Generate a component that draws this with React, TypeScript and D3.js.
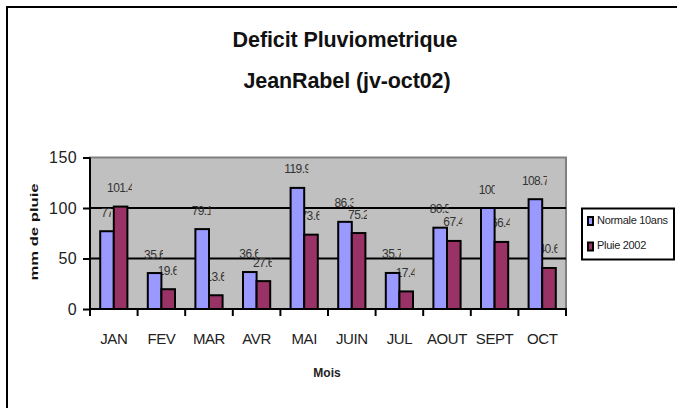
import * as d3 from "d3";
import React, { useEffect, useRef } from "react";

const months = ["JAN", "FEV", "MAR", "AVR", "MAI", "JUIN", "JUL", "AOUT", "SEPT", "OCT"];
const normale = [77, 35.6, 79.1, 36.6, 119.9, 86.3, 35.7, 80.5, 100, 108.7];
const pluie2002 = [101.4, 19.6, 13.6, 27.6, 73.6, 75.2, 17.4, 67.4, 66.4, 40.6];
const seriesNames = ["Normale 10ans", "Pluie 2002"];
const seriesColors = ["#9999FF", "#993366"];
const yTicks = [0, 50, 100, 150];
const gridValues = [50, 100];

const W = 677;
const H = 408;
const FONT = "'Liberation Sans', Arial, sans-serif";

function App() {
    const ref = useRef<SVGSVGElement>(null);

    useEffect(() => {
        const svg = d3.select(ref.current);
        svg.selectAll("*").remove();

        const left = 90, right = 566, top = 157.5, bottom = 309;

        const x = d3.scaleBand().domain(months).range([left, right]).paddingInner(0).paddingOuter(0);
        // excel style gap width of 150%
        const xs = d3.scaleBand().domain(seriesNames).range([0, x.bandwidth()]).paddingInner(0).paddingOuter(0.75);
        const y = d3.scaleLinear().domain([0, 150]).range([bottom, top]);

        const defs = svg.append("defs");

        // chart frame (runs off the page at right/bottom)
        svg.append("rect")
            .attr("x", 7).attr("y", 7)
            .attr("width", W + 20).attr("height", H + 20)
            .attr("fill", "white").attr("stroke", "black").attr("stroke-width", 2);

        // titles
        const title = svg.append("g").attr("font-family", FONT).attr("font-weight", "bold")
            .attr("font-size", 21.5).attr("text-anchor", "middle").attr("fill", "#111");
        title.append("text").attr("x", 345).attr("y", 47).attr("letter-spacing", -0.1).text("Deficit Pluviometrique");
        title.append("text").attr("x", 347).attr("y", 88).attr("letter-spacing", -0.1).text("JeanRabel (jv-oct02)");

        // plot area
        svg.append("rect")
            .attr("x", left).attr("y", top)
            .attr("width", right - left).attr("height", bottom - top)
            .attr("fill", "#C0C0C0").attr("stroke", "#808080").attr("stroke-width", 2);

        // gridlines
        svg.append("g").selectAll("line").data(gridValues).enter().append("line")
            .attr("x1", left).attr("x2", right)
            .attr("y1", d => y(d)).attr("y2", d => y(d))
            .attr("stroke", "black").attr("stroke-width", 2);

        // value labels (drawn under the bars, slightly clipped like the original)
        const labels = svg.append("g").attr("font-family", FONT).attr("font-size", 12)
            .attr("fill", "#333").attr("text-anchor", "middle").attr("letter-spacing", -0.6);
        const allSeries = [normale, pluie2002];
        allSeries.forEach((vals, si) => {
            vals.forEach((v, i) => {
                const cx = (x(months[i]) as number) + (xs(seriesNames[si]) as number) + xs.bandwidth() / 2;
                const t = labels.append("text")
                    .attr("x", cx).attr("y", y(v) - 14.5)
                    .text(String(v));
                const bb = (t.node() as SVGTextElement).getBBox();
                const id = `lc-${si}-${i}`;
                defs.append("clipPath").attr("id", id).append("rect")
                    .attr("x", bb.x - 2).attr("y", bb.y - 2)
                    .attr("width", bb.width - 1).attr("height", bb.height + 4);
                t.attr("clip-path", `url(#${id})`);
            });
        });

        // bars
        allSeries.forEach((vals, si) => {
            svg.append("g").selectAll("rect").data(vals).enter().append("rect")
                .attr("x", (d, i) => (x(months[i]) as number) + (xs(seriesNames[si]) as number))
                .attr("y", d => y(d))
                .attr("width", xs.bandwidth())
                .attr("height", d => y(0) - y(d))
                .attr("fill", seriesColors[si])
                .attr("stroke", "black").attr("stroke-width", 2);
        });

        // y axis
        const yAxis = svg.append("g").attr("transform", `translate(${left},0)`)
            .call(d3.axisLeft(y).tickValues(yTicks).tickSize(7).tickPadding(6).tickFormat(d3.format("d")));
        yAxis.select(".domain").attr("stroke", "black").attr("stroke-width", 2).attr("d", `M0,${top}V${bottom}`);
        yAxis.selectAll(".tick line").attr("stroke", "black").attr("stroke-width", 2);
        yAxis.selectAll(".tick text").attr("font-family", FONT).attr("font-size", 16)
            .attr("letter-spacing", 0.4).attr("fill", "#222");

        // x axis: ticks on category boundaries, labels centred
        const xAxis = svg.append("g");
        xAxis.append("line").attr("x1", left - 1).attr("x2", right + 1)
            .attr("y1", bottom).attr("y2", bottom).attr("stroke", "black").attr("stroke-width", 2);
        const bounds = months.map(m => x(m) as number).concat([right]);
        xAxis.selectAll("line.tk").data(bounds).enter().append("line").attr("class", "tk")
            .attr("x1", d => d).attr("x2", d => d)
            .attr("y1", bottom).attr("y2", bottom + 7)
            .attr("stroke", "black").attr("stroke-width", 2);
        xAxis.selectAll("text").data(months).enter().append("text")
            .attr("x", d => (x(d) as number) + x.bandwidth() / 2)
            .attr("y", 344)
            .attr("text-anchor", "middle")
            .attr("font-family", FONT).attr("font-size", 15).attr("letter-spacing", -0.4)
            .attr("fill", "#222")
            .text(d => d);

        // axis titles
        svg.append("text").attr("x", 327).attr("y", 377).attr("text-anchor", "middle")
            .attr("font-family", FONT).attr("font-size", 12).attr("font-weight", "bold").attr("fill", "#222")
            .text("Mois");
        svg.append("text")
            .attr("transform", "translate(38,232) rotate(-90) scale(1.45,1)")
            .attr("text-anchor", "middle")
            .attr("font-family", FONT).attr("font-size", 11.5).attr("font-weight", "bold")
            .attr("fill", "#111")
            .text("mm de pluie");

        // legend
        const lg = svg.append("g");
        lg.append("rect").attr("x", 582).attr("y", 208.5).attr("width", 92).attr("height", 51)
            .attr("fill", "white").attr("stroke", "black").attr("stroke-width", 2);
        seriesNames.forEach((name, i) => {
            const yy = 217 + i * 25.5;
            lg.append("rect").attr("x", 588).attr("y", yy).attr("width", 5).attr("height", 8)
                .attr("fill", seriesColors[i]).attr("stroke", "black").attr("stroke-width", 2);
            lg.append("text").attr("x", 597).attr("y", yy + 6.5)
                .attr("font-family", FONT).attr("font-size", 11).attr("letter-spacing", -0.3)
                .attr("fill", "#222").text(name);
        });
    }, []);

    return (
        <svg ref={ref} width={W} height={H}
            style={{ position: "absolute", left: 0, top: 0, background: "white" }} />
    );
}

export default App;
